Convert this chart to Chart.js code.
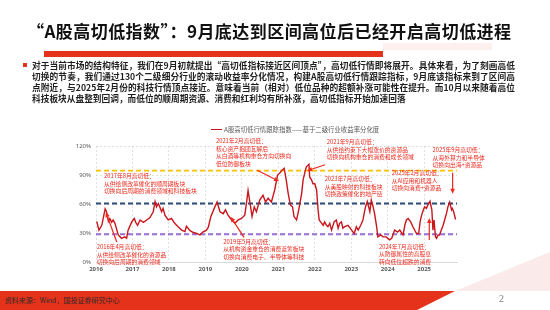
<!DOCTYPE html>
<html>
<head>
<meta charset="utf-8">
<script src="https://cdn.jsdelivr.net/npm/chart.js@4.4.1/dist/chart.umd.min.js"></script>
<style>
  html, body { margin: 0; padding: 0; background: #fff; }
  #page { position: relative; width: 550px; height: 310px; overflow: hidden; font-family: "Noto Sans CJK SC", "Noto Sans", sans-serif; }
  #chart { position: absolute; left: 0; top: 0; }
  .abs { position: absolute; white-space: nowrap; }
  #title { left: 27px; top: 21px; font-size: 17px; line-height: 20px; font-weight: bold; color: #111; letter-spacing: 0.45px; }
  #redbar { left: 44px; top: 51px; width: 339px; height: 6px; background: #e5321b; }
  #pinkbar { left: 383px; top: 43px; width: 109px; height: 7px; background: #fdf0ef; }
  #bullet { left: 23px; top: 63px; width: 4px; height: 4px; background: #e5321b; }
  #para { left: 32px; top: 59.5px; width: 483px; font-size: 8.7px; line-height: 11.1px; font-weight: bold; color: #1e1e1e; }
  #para div { text-align: justify; text-align-last: justify; white-space: nowrap; }
  #para div.last { text-align-last: left; }
  #legline { left: 211px; top: 128.8px; width: 11px; height: 1.5px; background: #c8161d; }
  #legtext { left: 224px; top: 125px; font-size: 6.4px; line-height: 9px; color: #595959; }
  #foot { left: 0; top: 291px; width: 550px; height: 19px; background: #e5321b; clip-path: polygon(0 0, 455px 0, 417px 19px, 0 19px); }
  #pinktri { left: 0; top: 0; width: 550px; height: 310px; background: #fbeaea; clip-path: polygon(455px 291px, 550px 252px, 550px 291px); }
  #source { left: 5px; top: 295.5px; font-size: 7px; line-height: 9px; color: #2a2a2a; }
  #pageno { left: 499px; top: 293px; font-size: 10px; line-height: 12px; color: #7f7f7f; font-family: "Liberation Serif", serif; }
</style>
</head>
<body>
<div id="page">
  <div class="abs" id="pinktri"></div>
  <canvas id="chart" width="550" height="310"></canvas>
  <div class="abs" id="title">“A股高切低指数”：9月底达到区间高位后已经开启高切低进程</div>
  <div class="abs" id="pinkbar"></div>
  <div class="abs" id="redbar"></div>
  <div class="abs" id="bullet"></div>
  <div class="abs" id="para">
    <div>对于当前市场的结构特征，我们在9月初就提出“高切低指标接近区间顶点”，高切低行情即将展开。具体来看，为了刻画高低</div>
    <div>切换的节奏，我们通过130个二级细分行业的滚动收益率分化情况，构建A股高切低行情跟踪指标，9月底该指标来到了区间高</div>
    <div>点附近，与2025年2月份的科技行情顶点接近。意味着当前（相对）低位品种的超额补涨可能性在提升。而10月以来随着高位</div>
    <div class="last">科技板块从盘整到回调，而低位的顺周期资源、消费和红利均有所补涨，高切低指标开始加速回落</div>
  </div>
  <div class="abs" id="legline"></div>
  <div class="abs" id="legtext">A股高切低行情跟踪指数——基于二级行业收益率分化度</div>
  <div class="abs" id="foot"></div>
  <div class="abs" id="source">资料来源：Wind，国投证券研究中心</div>
  <div class="abs" id="pageno">2</div>
</div>
<script>
// 时间点（以年为单位的小数）
const times = [
  2016.02, 2016.08, 2016.16, 2016.25, 2016.29, 2016.34, 2016.38, 2016.43, 2016.47, 2016.52,
  2016.61, 2016.70, 2016.79, 2016.84, 2016.88, 2016.98, 2017.05, 2017.09, 2017.14, 2017.21,
  2017.30, 2017.39, 2017.48, 2017.57, 2017.62, 2017.66, 2017.71, 2017.75, 2017.80, 2017.84,
  2017.89, 2017.98, 2018.07, 2018.16, 2018.25, 2018.35, 2018.44, 2018.48, 2018.58, 2018.67,
  2018.76, 2018.85, 2018.93, 2019.03, 2019.08, 2019.15, 2019.26, 2019.32, 2019.40, 2019.49,
  2019.55, 2019.62, 2019.72, 2019.81, 2019.90, 2019.99, 2020.08, 2020.13, 2020.17, 2020.22,
  2020.28, 2020.34, 2020.40, 2020.49, 2020.58, 2020.65, 2020.72, 2020.81, 2020.90, 2020.98,
  2021.04, 2021.10, 2021.16, 2021.21, 2021.27, 2021.33, 2021.39, 2021.43, 2021.50, 2021.56,
  2021.64, 2021.68, 2021.73, 2021.77, 2021.84, 2021.86, 2021.91, 2021.95, 2022.00, 2022.05,
  2022.09, 2022.12, 2022.16, 2022.23, 2022.27, 2022.32, 2022.36, 2022.41, 2022.46, 2022.53,
  2022.59, 2022.64, 2022.68, 2022.73, 2022.77, 2022.82, 2022.91, 2023.01, 2023.08, 2023.14,
  2023.19, 2023.26, 2023.32, 2023.39, 2023.44, 2023.51, 2023.55, 2023.60, 2023.64, 2023.69,
  2023.73, 2023.81, 2023.87, 2023.96, 2024.05, 2024.11, 2024.19, 2024.27, 2024.33, 2024.42,
  2024.47, 2024.51, 2024.56, 2024.63, 2024.69, 2024.79, 2024.85, 2024.89, 2024.93, 2024.97,
  2025.01, 2025.06, 2025.10, 2025.16, 2025.21, 2025.24, 2025.27, 2025.31, 2025.34, 2025.38,
  2025.42, 2025.47, 2025.52, 2025.56, 2025.61, 2025.65, 2025.70, 2025.75, 2025.77, 2025.81,
  2025.86
];
// A股高切低行情跟踪指数（%）
const indexValues = [
  42, 33, 38, 55, 52, 42, 45, 41, 43.5, 40,
  28, 24.5, 26, 24.5, 33, 41.5, 45, 41, 38, 43.5,
  41, 43.5, 46, 52, 62.5, 57, 60.5, 57, 52, 55.5,
  48.5, 43.5, 45, 40, 36.5, 33, 31.5, 37, 32.5, 30.5,
  29.5, 28, 31, 33, 36, 47, 57, 62, 52, 50,
  54, 48.5, 43.5, 40, 43.5, 45, 48.5, 62, 74, 62,
  47, 57, 52, 64, 69, 62, 66, 62, 74.5, 90,
  92, 95, 97, 86.5, 71, 59, 57, 47, 43.5, 54,
  71, 85, 93, 98.5, 101, 88, 85, 81, 81, 74.5,
  54, 43.5, 41.5, 38, 41.5, 38, 36.5, 40, 33, 41.5,
  43.5, 35, 40, 41.5, 35, 36.5, 38, 33, 29.5, 36.5,
  33, 38, 43.5, 57, 62.5, 52, 64, 57, 50, 38,
  26, 28, 26, 26, 23, 24.5, 33, 31, 33, 28,
  38, 43.5, 45, 41.5, 36.5, 29.5, 29.5, 42, 48.5, 53,
  57, 55.5, 59, 63, 54, 33, 43.5, 26, 24.5, 28,
  28, 33, 38, 43.5, 50, 57, 62, 54, 55.5, 52,
  44
];
// 参考线水平（%）
const refLevels = [94.5, 60.5, 28.7];
const refColors = ['#ffc000', '#2f4a7d', '#9b6fd6'];
const xRange = [2016, 2025.9];
const yTicks = [0, 30, 60, 90, 120];

// 标注
const notes = [
  { t: 2016.02, v: 15.6, lines: ['2016年4月高切低：', '从供给侧改革催化的资源品', '切换向后周期的消费领域'],
    arrow: [[2016.57, 20.7], [2016.27, 51.5]] },
  { t: 2016.22, v: 89.0, lines: ['2017年8月高切低：', '从供给侧改革催化的顺周期板块', '切换向后周期的消费领域和科技板块'] },
  { t: 2019.49, v: 21.3, lines: ['2019年5月高切低：', '从机构资金重仓的消费蓝筹板块', '切换向消费电子、半导体等科技'],
    arrow: [[2020.06, 25.4], [2019.69, 46.7]] },
  { t: 2019.29, v: 125.2, lines: ['2021年2月高切低：', '核心资产抱团瓦解后', '从白酒等机构重仓方向切换向', '低位防御板块'],
    arrow: [[2020.42, 94.9], [2021.02, 83.5]] },
  { t: 2022.33, v: 124.1, lines: ['2021年9月高切低：', '从供给约束下大幅涨价的资源品', '切换向机构重仓的消费和成长领域'],
    arrow: [[2022.28, 100.6], [2021.79, 94.4]] },
  { t: 2022.27, v: 85.8, lines: ['2023年7月高切低：', '从美股映射的科技板块', '切换政策催化的地产链'] },
  { t: 2024.11, v: 91.8, lines: ['2025年2月高切低：', '从AI应用和机器人', '切换向消费+资源品'],
    arrow: [[2025.14, 22.8], [2025.14, 45.6]] },
  { t: 2023.76, v: 15.9, lines: ['2024年7月高切低：', '从防御属性的高股息', '转向低位超跌的消费'] },
  { t: 2025.23, v: 115.6, lines: ['2025年9月高切低：', '从海外算力和半导体', '切换向出海+资源品'],
    arrow: [[2025.78, 92.3], [2025.78, 70.5]] }
];
const noteColor = '#ec2a1e';

function drawArrow(ctx, x1, y1, x2, y2) {
  const ang = Math.atan2(y2 - y1, x2 - x1);
  const len = 5, wid = 2.3;
  ctx.beginPath();
  ctx.moveTo(x1, y1);
  ctx.lineTo(x2 - Math.cos(ang) * len * 0.8, y2 - Math.sin(ang) * len * 0.8);
  ctx.stroke();
  ctx.beginPath();
  ctx.moveTo(x2, y2);
  ctx.lineTo(x2 - Math.cos(ang) * len - Math.sin(ang) * wid, y2 - Math.sin(ang) * len + Math.cos(ang) * wid);
  ctx.lineTo(x2 - Math.cos(ang) * len + Math.sin(ang) * wid, y2 - Math.sin(ang) * len - Math.cos(ang) * wid);
  ctx.closePath();
  ctx.fill();
}

const notePlugin = {
  id: 'notes',
  afterDatasetsDraw(chart) {
    const ctx = chart.ctx;
    const x = chart.scales.x, y = chart.scales.y;
    ctx.save();
    ctx.fillStyle = noteColor;
    ctx.strokeStyle = noteColor;
    ctx.lineWidth = 1.2;
    ctx.font = '5.8px "Noto Sans CJK SC"';
    ctx.textBaseline = 'middle';
    notes.forEach(n => {
      const px = x.getPixelForValue(n.t);
      const py = y.getPixelForValue(n.v);
      n.lines.forEach((s, i) => ctx.fillText(s, px, py + i * 7.5));
      if (n.arrow) {
        const a = n.arrow;
        drawArrow(ctx, x.getPixelForValue(a[0][0]), y.getPixelForValue(a[0][1]),
          x.getPixelForValue(a[1][0]), y.getPixelForValue(a[1][1]));
      }
    });
    ctx.restore();
  }
};

const datasets = [{
  label: 'A股高切低行情跟踪指数——基于二级行业收益率分化度',
  data: times.map((t, i) => ({ x: t, y: indexValues[i] })),
  borderColor: '#c8161d',
  borderWidth: 1.4,
  pointRadius: 0,
  tension: 0,
  fill: false
}];
refLevels.forEach((lv, i) => {
  datasets.push({
    label: 'ref' + i,
    data: [{ x: xRange[0], y: lv }, { x: xRange[1], y: lv }],
    borderColor: refColors[i],
    borderWidth: 1.8,
    borderDash: [5, 3],
    pointRadius: 0,
    fill: false
  });
});

new Chart(document.getElementById('chart').getContext('2d'), {
  type: 'line',
  data: { datasets: datasets },
  options: {
    responsive: false,
    animation: false,
    events: [],
    layout: { padding: { left: 56, right: 93, top: 146, bottom: 32 } },
    plugins: { legend: { display: false }, tooltip: { enabled: false } },
    scales: {
      x: {
        type: 'linear',
        min: xRange[0],
        max: xRange[1],
        afterFit: s => { s.height = 16; },
        grid: { color: '#d9d9d9', lineWidth: 0.8, drawTicks: false },
        border: { display: true, color: '#d9d9d9', dash: [2, 2] },
        ticks: {
          stepSize: 1,
          includeBounds: false,
          padding: 4,
          color: '#595959',
          font: { family: 'Noto Sans', size: 6, weight: 'bold' },
          callback: v => String(v)
        }
      },
      y: {
        min: yTicks[0],
        max: yTicks[yTicks.length - 1],
        afterFit: s => { s.width = 40; },
        afterBuildTicks: s => { s.ticks = yTicks.map(v => ({ value: v })); },
        grid: { color: '#d9d9d9', lineWidth: 0.8, drawTicks: false },
        border: { display: false, dash: [2, 2] },
        ticks: {
          padding: 5,
          color: '#595959',
          font: { family: 'Noto Sans', size: 6 },
          callback: v => v + '%'
        }
      }
    }
  },
  plugins: [notePlugin]
});
</script>
</body>
</html>
